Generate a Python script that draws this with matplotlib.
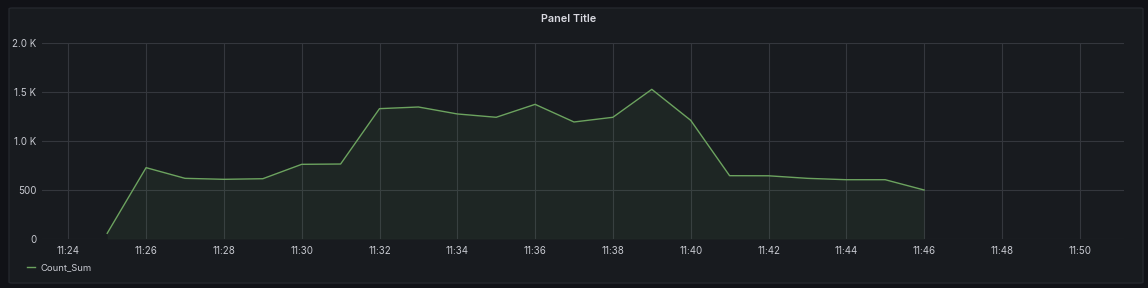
import matplotlib
matplotlib.use("Agg")
import matplotlib.pyplot as plt
from matplotlib.patches import FancyBboxPatch

# data (one point per minute)
times = ["11:25", "11:26", "11:27", "11:28", "11:29", "11:30", "11:31", "11:32",
         "11:33", "11:34", "11:35", "11:36", "11:37", "11:38", "11:39", "11:40",
         "11:41", "11:42", "11:43", "11:44", "11:45", "11:46"]
count_sum = [58, 728, 619, 609, 615, 762, 765, 1330,
             1347, 1276, 1242, 1374, 1194, 1242, 1527, 1211,
             646, 645, 619, 605, 605, 500]

x_ticks = ["11:24", "11:26", "11:28", "11:30", "11:32", "11:34", "11:36",
           "11:38", "11:40", "11:42", "11:44", "11:46", "11:48", "11:50"]
y_ticks = [0, 500, 1000, 1500, 2000]
y_labels = ["0", "500", "1.0 K", "1.5 K", "2.0 K"]


def to_min(t):
    h, m = t.split(":")
    return int(h) * 60 + int(m)


plt.rcParams["font.family"] = ["Inter", "DejaVu Sans"]

W, H = 1148, 288
fig = plt.figure(figsize=(W / 100, H / 100), dpi=100)
fig.patch.set_facecolor("#111217")

# panel background
panel = FancyBboxPatch((9 / W, 1 - 283 / H), 1134 / W, 275 / H,
                       boxstyle="round,pad=0,rounding_size=0.003",
                       transform=fig.transFigure, facecolor="#181b1f",
                       edgecolor="#24272d", linewidth=1, zorder=-5)
fig.patches.append(panel)

fig.text(569 / W, 1 - 19 / H, "Panel Title", color="#d8d9e0",
         fontsize=7.8, fontweight="semibold", ha="center", va="center")

ax = fig.add_axes([42 / W, 1 - 239 / H, 1082 / W, 196 / H])
ax.set_zorder(2)
ax.set_facecolor("none")

xs = [to_min(t) for t in times]
line_color = "#6ca35f"
ax.plot(xs, count_sum, color=line_color, linewidth=1, label="Count_Sum", zorder=3)
ax.fill_between(xs, count_sum, 0, color="#73bf69", alpha=0.07, linewidth=0, zorder=2)

ax.set_xlim(to_min("11:24") - 26.3 / 38.9, to_min("11:50") + 44.3 / 38.9)
ax.set_ylim(0, 2000)

ax.set_xticks([to_min(t) for t in x_ticks])
ax.set_xticklabels(x_ticks)
ax.set_yticks(y_ticks)
ax.set_yticklabels(y_labels)

ax.grid(True, color="#34373d", linewidth=0.8, zorder=1)
ax.set_axisbelow(True)
for s in ax.spines.values():
    s.set_visible(False)
ax.tick_params(axis="both", length=0, colors="#c7c9d0", labelsize=7.0)
ax.tick_params(axis="x", pad=5)
ax.tick_params(axis="y", pad=4)

leg = fig.legend(loc="center left", bbox_to_anchor=(23 / W, 1 - 268 / H),
                 frameon=False, handlelength=0.9, handletextpad=0.6,
                 fontsize=6.8, borderaxespad=0)
for txt in leg.get_texts():
    txt.set_color("#c7c9d0")

fig.savefig("out.png", dpi=100, facecolor=fig.get_facecolor())
